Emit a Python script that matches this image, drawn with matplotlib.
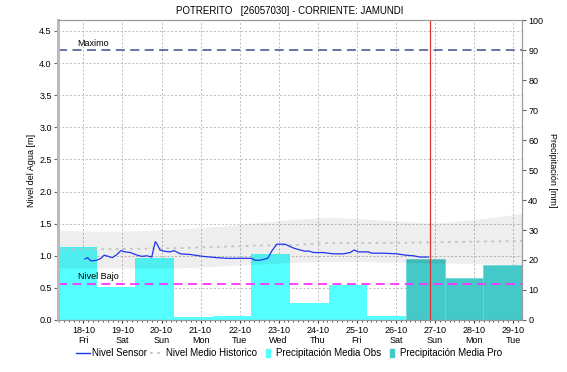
import numpy as np
import matplotlib
matplotlib.use("Agg")
import matplotlib.pyplot as plt
import matplotlib.patches as mpatches
from matplotlib.lines import Line2D
from matplotlib.legend_handler import HandlerPatch
from matplotlib.ticker import MultipleLocator

plt.rcParams['font.family'] = ['Liberation Sans', 'DejaVu Sans']

# days shown on the x axis (day 0 = 18-10)
day_labels = ['18-10', '19-10', '20-10', '21-10', '22-10', '23-10',
              '24-10', '25-10', '26-10', '27-10', '28-10', '29-10']
weekdays = ['Fri', 'Sat', 'Sun', 'Mon', 'Tue', 'Wed',
            'Thu', 'Fri', 'Sat', 'Sun', 'Mon', 'Tue']

# daily rainfall [mm], observed then forecast
precip_obs = [24.2, 11.1, 20.6, 1.1, 1.4, 21.9, 5.6, 11.7, 1.4]
precip_pro = [20.2, 14.1, 18.3]

# sensor water level [m]
sensor_t = [0.04, 0.11, 0.19, 0.34, 0.45, 0.53, 0.64, 0.74, 0.86, 0.96,
            1.07, 1.20, 1.37, 1.50, 1.62, 1.75, 1.84, 1.88, 1.96, 2.07,
            2.22, 2.32, 2.48, 2.73, 3.07, 3.42, 3.67, 4.01, 4.31, 4.38,
            4.52, 4.72, 4.82, 4.95, 5.16, 5.38, 5.55, 5.68, 5.76, 5.89,
            6.14, 6.40, 6.66, 6.83, 6.93, 7.04, 7.30, 7.38, 7.68, 8.02,
            8.24, 8.45, 8.62, 8.83]
sensor_v = [0.95, 0.97, 0.92, 0.93, 0.96, 1.01, 0.99, 0.97, 1.02, 1.08,
            1.06, 1.05, 1.01, 0.99, 1.00, 0.98, 1.22, 1.19, 1.09, 1.07,
            1.06, 1.08, 1.03, 1.02, 0.99, 0.97, 0.96, 0.96, 0.96, 0.93,
            0.93, 0.96, 1.07, 1.18, 1.18, 1.12, 1.09, 1.07, 1.075, 1.05,
            1.05, 1.03, 1.03, 1.05, 1.09, 1.06, 1.06, 1.04, 1.04, 1.03,
            1.01, 1.00, 0.98, 0.98]

# historic level: mean and band
hist_t = [-0.65, 0.35, 1.5, 2.5, 3.5, 4.5, 5.5, 6.3, 7.0, 8.0, 9.0, 10.0, 11.23]
hist_upper = [1.40, 1.38, 1.39, 1.42, 1.46, 1.52, 1.57, 1.60, 1.58, 1.54, 1.51, 1.56, 1.66]
hist_lower = [0.81, 0.81, 0.81, 0.81, 0.84, 0.87, 0.90, 0.91, 0.91, 0.90, 0.89, 0.88, 0.86]
hist_mean = [1.10, 1.10, 1.11, 1.12, 1.14, 1.16, 1.17, 1.20, 1.20, 1.20, 1.21, 1.22, 1.23]

nivel_maximo = 4.2
nivel_bajo = 0.56
now_t = 8.88

bar_start = -0.65
bar_width = 0.99

fig = plt.figure(figsize=(5.67, 3.72), dpi=100)
ax = fig.add_axes([0.1023, 0.1398, 0.8183, 0.8064])
ax2 = ax.twinx()

ax.set_xlim(-0.65, 11.23)
ax.set_ylim(0, 4.67)
ax2.set_ylim(0, 100)

# grid under everything
ax.set_axisbelow(True)
ax.grid(True, color='#bbbbbb', linestyle=(0, (2, 2)), linewidth=0.7)

# rainfall bars use the right-hand scale
rain_tf = ax2.transData
n_obs = len(precip_obs)
x_obs = [bar_start + i * bar_width for i in range(n_obs)]
x_pro = [bar_start + (n_obs + i) * bar_width for i in range(len(precip_pro))]
ax.bar(x_obs, precip_obs, width=bar_width, align='edge', color='#55ffff',
       transform=rain_tf, zorder=1)
ax.bar(x_pro, precip_pro, width=bar_width, align='edge', color='#44c8c8',
       edgecolor='#66d6d6', linewidth=0.5, transform=rain_tf, zorder=1)

# historic band darkens slightly whatever is under it
ax.fill_between(hist_t, hist_lower, hist_upper, color='black', alpha=0.065,
                linewidth=0, zorder=2)
ax.plot(hist_t, hist_mean, color='#c4c4c4', linestyle=(0, (1.5, 2.5)),
        linewidth=1.3, zorder=3)

ax.axhline(nivel_maximo, color='#5a6a9a', linestyle=(0, (5, 3)), linewidth=1.3, zorder=3)
ax.axhline(nivel_bajo, color='#ff33ff', linestyle=(0, (5, 3)), linewidth=1.3, zorder=3)
ax.text(-0.15, nivel_maximo + 0.04, 'Maximo', fontsize=6.5, ha='left', va='bottom')
ax.text(-0.15, nivel_bajo + 0.05, 'Nivel Bajo', fontsize=6.5, ha='left', va='bottom')

ax.plot(sensor_t, sensor_v, color='#2233ee', linewidth=0.9, zorder=4)
ax.axvline(now_t, color='#dd3333', linewidth=0.9, zorder=4)

# axes styling
ax.set_xticks(range(len(day_labels)))
ax.set_xticklabels([f'{d}\n{w}' for d, w in zip(day_labels, weekdays)],
                   fontsize=6.5, linespacing=1.25)
ax.xaxis.set_minor_locator(MultipleLocator(0.125))
ax.tick_params(axis='x', which='major', length=2, color='#333333', pad=2)
ax.tick_params(axis='x', which='minor', length=1.5, color='#333333')
ax.yaxis.set_major_locator(MultipleLocator(0.5))
ax.yaxis.set_major_formatter(matplotlib.ticker.FormatStrFormatter('%.1f'))
ax.tick_params(axis='y', labelsize=6.5, length=3, color='#666666', pad=1.5)
ax2.yaxis.set_major_locator(MultipleLocator(10))
ax2.tick_params(axis='y', labelsize=6.5, length=3, color='#666666', pad=1.5)

for a in (ax, ax2):
    for side in ('top', 'right', 'bottom'):
        a.spines[side].set_color('#999999')
        a.spines[side].set_linewidth(0.8)
    a.spines['left'].set_color('#bbbbbb')
    a.spines['left'].set_linewidth(2)

ax.set_ylabel('Nivel del Agua [m]', fontsize=6.5, labelpad=2)
ax2.set_ylabel('Precipitación [mm]', fontsize=6.5, rotation=-90, labelpad=10)
ax.set_title('POTRERITO   [26057030] - CORRIENTE: JAMUNDI', fontsize=7, pad=4)


def narrow_patch(legend, orig_handle, xdescent, ydescent, width, height, fontsize):
    return mpatches.Rectangle((width * 0.4 - xdescent, -ydescent - 0.5),
                              width * 0.3, height + 1)


handles = [
    Line2D([], [], color='#2233ee', linewidth=1),
    Line2D([], [], color='#c4c4c4', linestyle=(0, (1.5, 2.5)), linewidth=1.3),
    mpatches.Patch(color='#55ffff'),
    mpatches.Patch(color='#44c8c8'),
]
labels = ['Nivel Sensor', 'Nivel Medio Historico',
          'Precipitación Media Obs', 'Precipitación Media Pro']
fig.legend(handles, labels, loc='center', bbox_to_anchor=(0.51, 0.05), ncol=4,
           frameon=False, fontsize=7, handlelength=1.4, handletextpad=0.2,
           columnspacing=0.35,
           handler_map={mpatches.Patch: HandlerPatch(patch_func=narrow_patch)})

fig.savefig('out.png', dpi=100)
